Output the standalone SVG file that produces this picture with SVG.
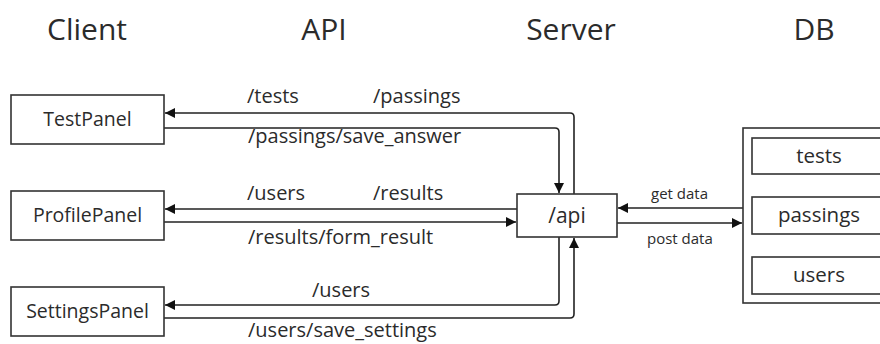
<svg xmlns="http://www.w3.org/2000/svg" width="880" height="344" viewBox="0 0 880 344">
<style>
text{font-family:"Open Sans","Noto Sans","Liberation Sans",sans-serif;fill:#2b2b2b}
.title{font-size:30px;text-anchor:middle}
.node{font-size:19.5px;text-anchor:middle}
.db{font-size:20.5px;text-anchor:middle}
.lbl{font-size:20px}
.sm{font-size:15px}
rect{fill:#fff;stroke:#333;stroke-width:1.6}
.c{fill:none;stroke:#222;stroke-width:1.6}
</style>
<defs>
<marker id="ah" viewBox="0 0 10 10" refX="10" refY="5" markerWidth="10" markerHeight="10" markerUnits="userSpaceOnUse" orient="auto">
<path d="M0,0 L10,5 L0,10 z" fill="#111"/>
</marker>
</defs>
<rect x="0" y="0" width="880" height="344" style="stroke:none"/>
<g id="titles">
<text class="title" x="87" y="40">Client</text>
<text class="title" x="324" y="40">API</text>
<text class="title" x="571" y="40">Server</text>
<text class="title" x="814" y="40">DB</text>
</g>
<g id="connectors">
<path class="c" d="M574,194 V117 Q574,113 570,113 H165" marker-end="url(#ah)"/>
<path class="c" d="M164,128 H555 Q559,128 559,132 V193" marker-end="url(#ah)"/>
<path class="c" d="M517,209 H165" marker-end="url(#ah)"/>
<path class="c" d="M164,222 H516" marker-end="url(#ah)"/>
<path class="c" d="M559,237 V301 Q559,305 555,305 H165" marker-end="url(#ah)"/>
<path class="c" d="M164,318 H570 Q574,318 574,314 V238" marker-end="url(#ah)"/>
<path class="c" d="M743,208 H618" marker-end="url(#ah)"/>
<path class="c" d="M617,223 H742" marker-end="url(#ah)"/>
<text class="lbl" x="247" y="103">/tests</text>
<text class="lbl" x="373" y="103">/passings</text>
<text class="lbl" x="248" y="143">/passings/save_answer</text>
<text class="lbl" x="247" y="200">/users</text>
<text class="lbl" x="373" y="200">/results</text>
<text class="lbl" x="248" y="244">/results/form_result</text>
<text class="lbl" x="312" y="297">/users</text>
<text class="lbl" x="248" y="337">/users/save_settings</text>
<text class="sm" x="651" y="199">get data</text>
<text class="sm" x="647" y="244">post data</text>
</g>
<g id="TestPanel">
<rect x="11" y="95" width="153" height="49"/>
<text class="node" x="87.5" y="126">TestPanel</text>
</g>
<g id="ProfilePanel">
<rect x="11" y="191" width="153" height="49"/>
<text class="node" x="87.5" y="222">ProfilePanel</text>
</g>
<g id="SettingsPanel">
<rect x="11" y="287" width="153" height="49"/>
<text class="node" x="87.5" y="318">SettingsPanel</text>
</g>
<g id="api">
<rect x="517" y="194" width="100" height="43"/>
<text class="node" x="567" y="223" style="font-size:21px">/api</text>
</g>
<g id="DB">
<rect x="743" y="128" width="150" height="175"/>
<rect x="752" y="138" width="140" height="36"/>
<text class="db" x="819" y="163">tests</text>
<rect x="752" y="197" width="140" height="37"/>
<text class="db" x="819" y="222">passings</text>
<rect x="752" y="257" width="140" height="37"/>
<text class="db" x="819" y="282">users</text>
</g>
</svg>
